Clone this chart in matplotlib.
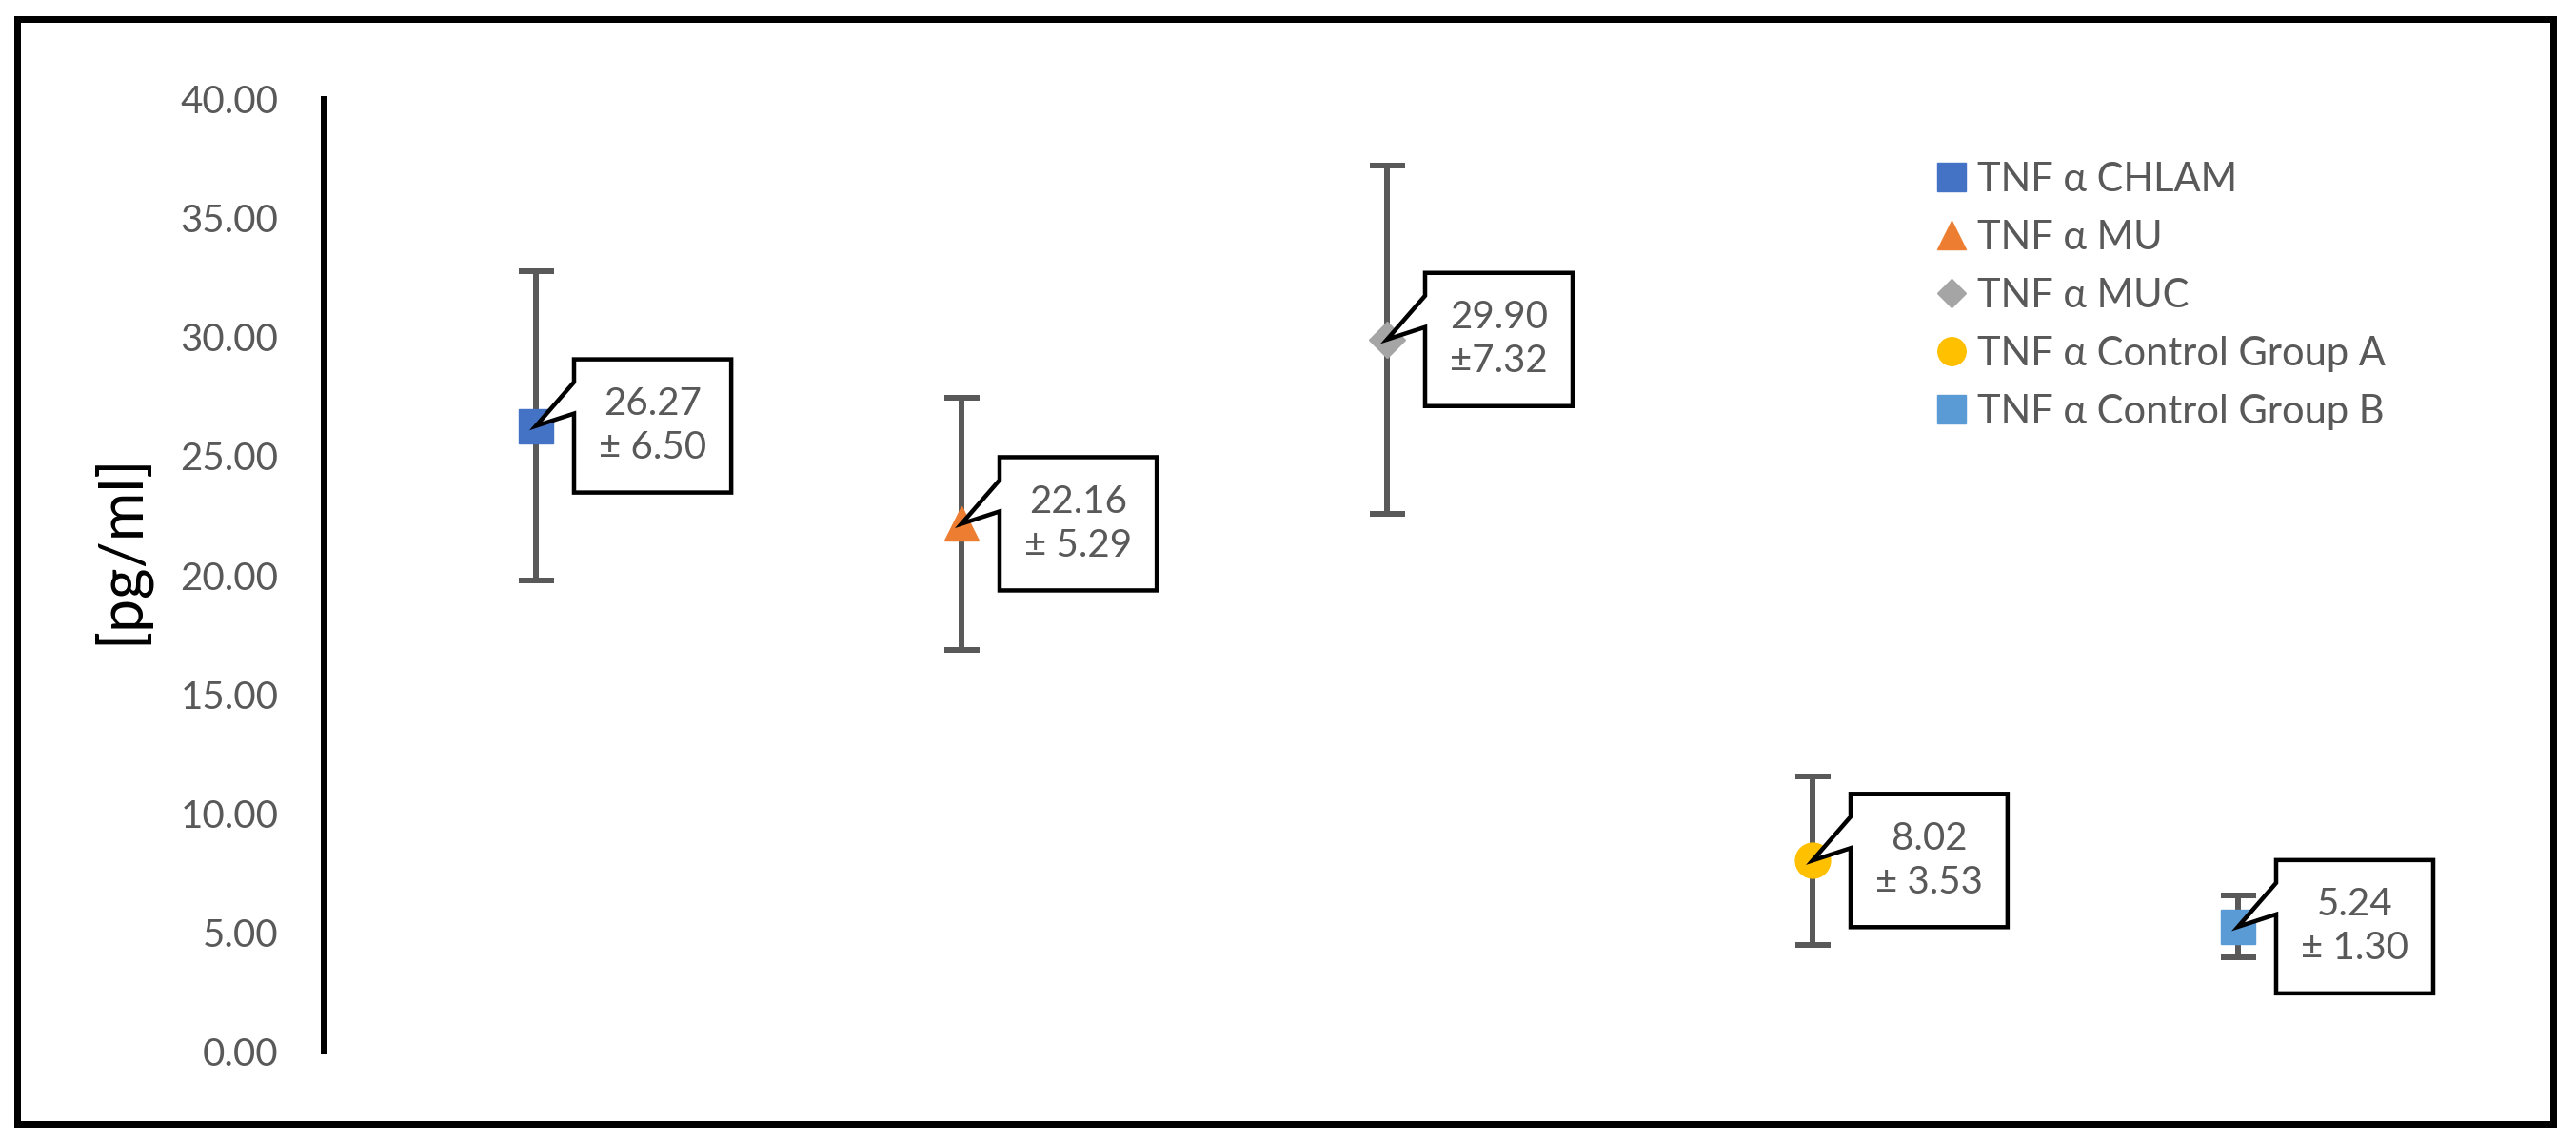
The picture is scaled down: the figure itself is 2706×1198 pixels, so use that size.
import numpy as np
import matplotlib
matplotlib.use('Agg')
import matplotlib.pyplot as plt
from matplotlib.patches import Polygon, Rectangle
from matplotlib.transforms import ScaledTranslation

# data
groups = ['TNF α CHLAM', 'TNF α MU', 'TNF α MUC',
          'TNF α Control Group A', 'TNF α Control Group B']
means = [26.27, 22.16, 29.90, 8.02, 5.24]
sds = [6.50, 5.29, 7.32, 3.53, 1.30]
pm_gap = [' ', ' ', '', ' ', ' ']   # the MUC label has no space after ±
yticks = [0, 5, 10, 15, 20, 25, 30, 35, 40]

# excel-ish styling
colors = ['#4472C4', '#ED7D31', '#A5A5A5', '#FFC000', '#5B9BD5']
markers = ['s', '^', 'D', 'o', 's']
msizes = [26.5, 26.5, 19.5, 26.5, 26.5]
grey = '#595959'

DPI = 100
W, H = 2706, 1198
px = 72 / DPI   # points per pixel

plt.rcParams['font.family'] = ['Lato', 'DejaVu Sans']

fig = plt.figure(figsize=(W / DPI, H / DPI), dpi=DPI)
ax = fig.add_axes([339.5 / W, 93 / H, 2235 / W, 1001 / H])
xs = np.arange(1, len(means) + 1)

ax.errorbar(xs, means, yerr=sds, fmt='none', ecolor=grey, elinewidth=6 * px,
            capsize=18.5 * px, capthick=6 * px, zorder=2)
for x, m, c, mk, ms, g in zip(xs, means, colors, markers, msizes, groups):
    ax.plot([x], [m], marker=mk, ms=ms, color=c, mec=c, mew=1, ls='none',
            label=g, zorder=3)

ax.set_xlim(0.5, 5.5)
ax.set_ylim(0, 40)
ax.set_yticks(yticks)
ax.yaxis.set_major_formatter(lambda v, p: f'{v:.2f}')
ax.tick_params(axis='y', length=0, pad=47 * px, labelsize=29, labelcolor=grey)
ax.set_xticks([])
for s in ['top', 'right', 'bottom']:
    ax.spines[s].set_visible(False)
ax.spines['left'].set_linewidth(6 * px)
ax.spines['left'].set_color('black')

fig.text(126 / W, 1 - 577 / H, '[pg/ml]', rotation=90, ha='center', va='center',
         fontsize=45, color='black')

ax.legend(loc='upper left', bbox_to_anchor=(2030 / W, 1 - 170 / H),
          bbox_transform=fig.transFigure, frameon=False, fontsize=30,
          labelcolor=grey, handlelength=0.97, handletextpad=0.15,
          labelspacing=0.55, borderpad=0, borderaxespad=0, markerscale=0.8,
          numpoints=1)

# callout boxes next to each point
renderer = fig.canvas.get_renderer()
for x, m, s, gap in zip(xs, means, sds, pm_gap):
    label = f'{m:.2f}\n±{gap}{s:.2f}'
    t = ax.annotate(label, (x, m), xytext=(0, 0), textcoords='offset points',
                    ha='center', va='center', fontsize=29, color=grey,
                    linespacing=1.3, zorder=6, annotation_clip=False)
    bw = t.get_window_extent(renderer).width + 52
    left = 40
    t.xyann = ((left + bw / 2) * px, 0)
    verts = np.array([(0, 0), (left, 13), (left, -70), (left + bw, -70),
                      (left + bw, 70), (left, 70), (left, 46)]) / DPI
    trans = fig.dpi_scale_trans + ScaledTranslation(x, m, ax.transData)
    ax.add_artist(Polygon(verts, closed=True, fc='white', ec='black',
                          lw=4.5 * px, joinstyle='miter', transform=trans,
                          zorder=5, clip_on=False))

# outer frame
fig.add_artist(Rectangle((18 / W, 1 - 1181 / H), (2682 - 18) / W, (1181 - 20) / H,
                         transform=fig.transFigure, fill=False, lw=7 * px,
                         ec='black'))

fig.savefig('out.png', dpi=DPI)
